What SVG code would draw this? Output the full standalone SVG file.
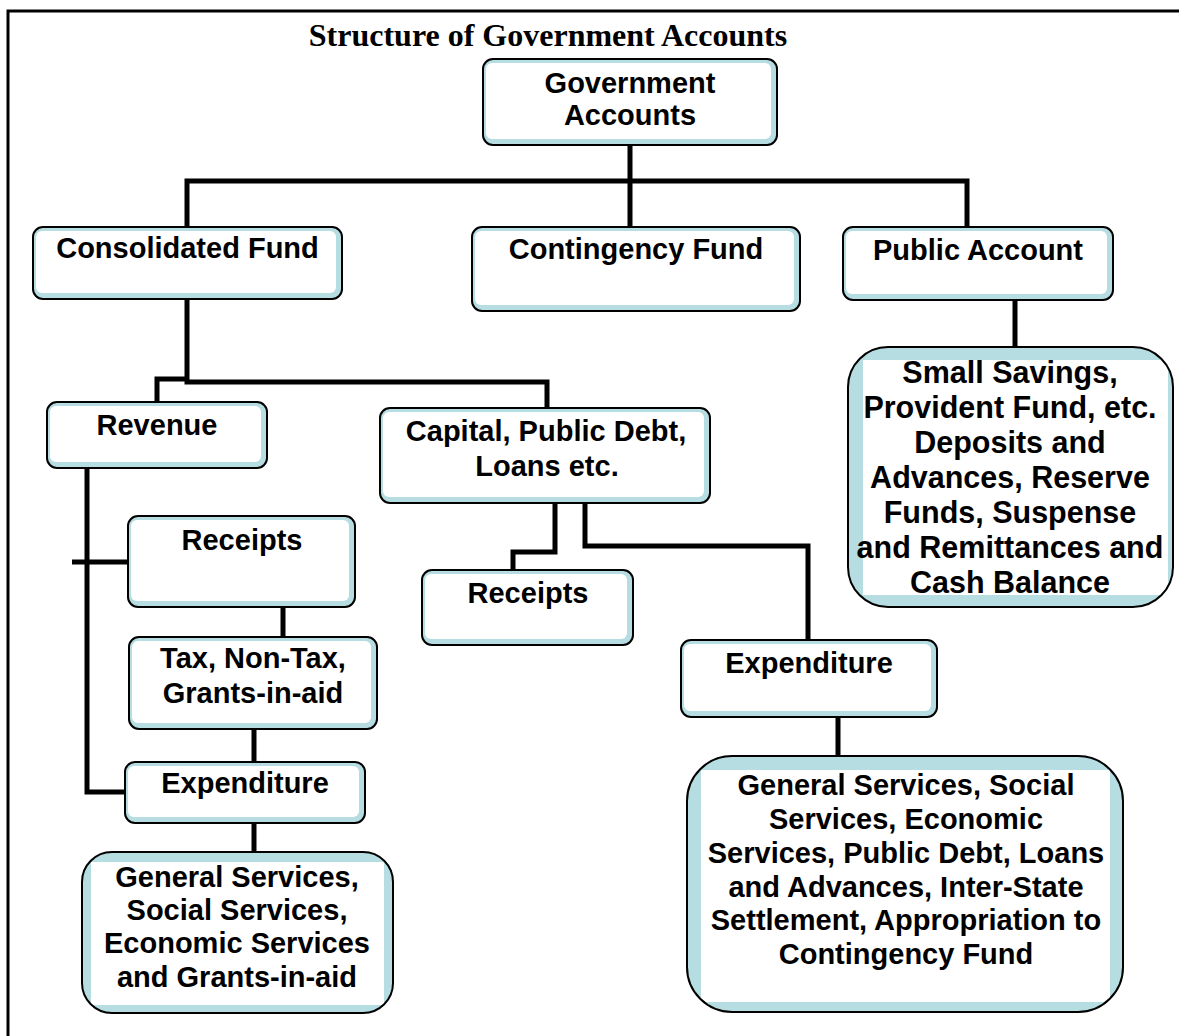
<svg xmlns="http://www.w3.org/2000/svg" width="1179" height="1036" viewBox="0 0 1179 1036">
<style>
.bg{fill:#b6dde1;stroke:none}
.in{fill:#ffffff;stroke:none}
.ol{fill:none;stroke:#000;stroke-width:2}
.t{font-family:"Liberation Sans",Arial,sans-serif;font-weight:bold;font-size:29px;fill:#000;text-anchor:middle}
.title{font-family:"Liberation Serif","Times New Roman",serif;font-weight:bold;font-size:32px;fill:#000;text-anchor:middle}
.c{fill:none;stroke:#000;stroke-width:5;stroke-linejoin:miter;stroke-linecap:butt}
</style>
<rect width="1179" height="1036" fill="#fff"/>
<path d="M8,1036 V11 H1179" fill="none" stroke="#000" stroke-width="3"/>
<text class="title" x="548" y="46">Structure of Government Accounts</text>

<g id="connectors">
<path class="c" d="M630,145 V227"/>
<path class="c" d="M187,227 V181 H967 V227"/>
<path class="c" d="M1015,300 V347"/>
<path class="c" d="M187,299 V382 H547 V408"/>
<path class="c" d="M157,402 V379 H187"/>
<path class="c" d="M87,468 V792 H125"/>
<path class="c" d="M72,562 H128"/>
<path class="c" d="M283,607 V637"/>
<path class="c" d="M254,729 V762"/>
<path class="c" d="M254,823 V852"/>
<path class="c" d="M555,503 V552 H513 V570"/>
<path class="c" d="M585,500 V546 H808 V640"/>
<path class="c" d="M838,717 V756"/>
</g>

<g id="gov">
<rect class="bg" x="483" y="59" width="294" height="86" rx="10"/>
<rect class="in" x="486" y="63" width="285" height="76" rx="6"/>
<rect class="ol" x="483" y="59" width="294" height="86" rx="10"/>
<text class="t" x="630" y="93">Government</text>
<text class="t" x="630" y="125">Accounts</text>
</g>

<g id="consolidated">
<rect class="bg" x="33" y="227" width="309" height="72" rx="10"/>
<rect class="in" x="36" y="231" width="300" height="62" rx="6"/>
<rect class="ol" x="33" y="227" width="309" height="72" rx="10"/>
<text class="t" x="187.5" y="258">Consolidated Fund</text>
</g>

<g id="contingency">
<rect class="bg" x="472" y="227" width="328" height="84" rx="10"/>
<rect class="in" x="475" y="231" width="319" height="74" rx="6"/>
<rect class="ol" x="472" y="227" width="328" height="84" rx="10"/>
<text class="t" x="636" y="259">Contingency Fund</text>
</g>

<g id="public">
<rect class="bg" x="843" y="227" width="270" height="73" rx="10"/>
<rect class="in" x="846" y="231" width="261" height="63" rx="6"/>
<rect class="ol" x="843" y="227" width="270" height="73" rx="10"/>
<text class="t" x="978" y="260">Public Account</text>
</g>

<g id="public-details">
<rect class="bg" x="848" y="347" width="325" height="260" rx="40"/>
<rect class="in" x="863" y="360" width="305" height="235"/>
<rect class="ol" x="848" y="347" width="325" height="260" rx="40"/>
<text class="t" style="font-size:30.5px" x="1010" y="383">Small Savings,</text>
<text class="t" style="font-size:30.5px" x="1010" y="418">Provident Fund, etc.</text>
<text class="t" style="font-size:30.5px" x="1010" y="453">Deposits and</text>
<text class="t" style="font-size:30.5px" x="1010" y="488">Advances, Reserve</text>
<text class="t" style="font-size:30.5px" x="1010" y="523">Funds, Suspense</text>
<text class="t" style="font-size:30.5px" x="1010" y="558">and Remittances and</text>
<text class="t" style="font-size:30.5px" x="1010" y="593">Cash Balance</text>
</g>

<g id="revenue">
<rect class="bg" x="47" y="402" width="220" height="66" rx="10"/>
<rect class="in" x="50" y="406" width="211" height="56" rx="6"/>
<rect class="ol" x="47" y="402" width="220" height="66" rx="10"/>
<text class="t" x="157" y="435">Revenue</text>
</g>

<g id="capital">
<rect class="bg" x="380" y="408" width="330" height="95" rx="10"/>
<rect class="in" x="383" y="412" width="321" height="85" rx="6"/>
<rect class="ol" x="380" y="408" width="330" height="95" rx="10"/>
<text class="t" x="546" y="441">Capital, Public Debt,</text>
<text class="t" x="547" y="476">Loans etc.</text>
</g>

<g id="revenue-receipts">
<rect class="bg" x="128" y="516" width="227" height="91" rx="10"/>
<rect class="in" x="131" y="520" width="218" height="81" rx="6"/>
<rect class="ol" x="128" y="516" width="227" height="91" rx="10"/>
<text class="t" x="242" y="550">Receipts</text>
</g>

<g id="capital-receipts">
<rect class="bg" x="422" y="570" width="211" height="75" rx="10"/>
<rect class="in" x="425" y="574" width="202" height="65" rx="6"/>
<rect class="ol" x="422" y="570" width="211" height="75" rx="10"/>
<text class="t" x="528" y="603">Receipts</text>
</g>

<g id="tax">
<rect class="bg" x="129" y="637" width="248" height="92" rx="10"/>
<rect class="in" x="132" y="641" width="239" height="82" rx="6"/>
<rect class="ol" x="129" y="637" width="248" height="92" rx="10"/>
<text class="t" x="253" y="668">Tax, Non-Tax,</text>
<text class="t" x="253" y="703">Grants-in-aid</text>
</g>

<g id="revenue-expenditure">
<rect class="bg" x="125" y="762" width="240" height="61" rx="10"/>
<rect class="in" x="128" y="766" width="231" height="51" rx="6"/>
<rect class="ol" x="125" y="762" width="240" height="61" rx="10"/>
<text class="t" x="245" y="793">Expenditure</text>
</g>

<g id="capital-expenditure">
<rect class="bg" x="681" y="640" width="256" height="77" rx="10"/>
<rect class="in" x="684" y="644" width="247" height="67" rx="6"/>
<rect class="ol" x="681" y="640" width="256" height="77" rx="10"/>
<text class="t" x="809" y="673">Expenditure</text>
</g>

<g id="revenue-exp-details">
<rect class="bg" x="82" y="852" width="311" height="161" rx="30"/>
<rect class="in" x="91" y="862" width="293" height="143"/>
<rect class="ol" x="82" y="852" width="311" height="161" rx="30"/>
<text class="t" x="237" y="887">General Services,</text>
<text class="t" x="237" y="920">Social Services,</text>
<text class="t" x="237" y="953">Economic Services</text>
<text class="t" x="237" y="987">and Grants-in-aid</text>
</g>

<g id="capital-exp-details">
<rect class="bg" x="687" y="756" width="436" height="256" rx="45"/>
<rect class="in" x="701" y="770" width="409" height="232"/>
<rect class="ol" x="687" y="756" width="436" height="256" rx="45"/>
<text class="t" x="906" y="795">General Services, Social</text>
<text class="t" x="906" y="829">Services, Economic</text>
<text class="t" x="906" y="863">Services, Public Debt, Loans</text>
<text class="t" x="906" y="897">and Advances, Inter-State</text>
<text class="t" x="906" y="930">Settlement, Appropriation to</text>
<text class="t" x="906" y="964">Contingency Fund</text>
</g>
</svg>
